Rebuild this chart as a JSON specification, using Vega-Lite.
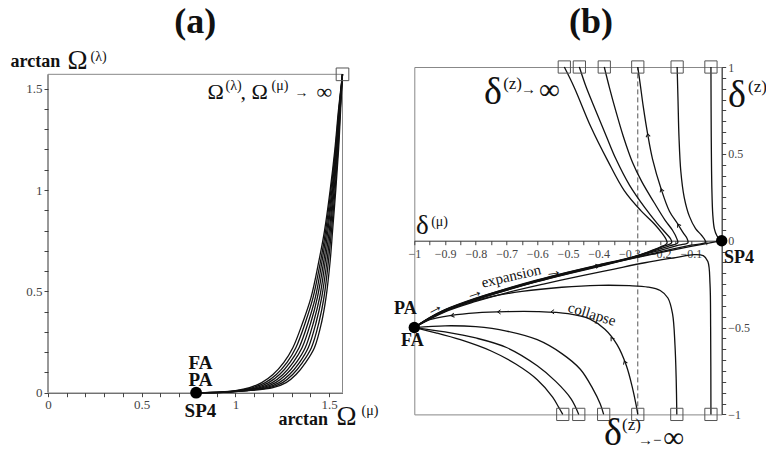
{
"$schema": "https://vega.github.io/schema/vega-lite/v6.json",
"background": "white",
"padding": {"left": 10, "top": 3, "right": 0, "bottom": 0},
"bounds": "flush",
"spacing": 71.3,
"config": {
  "view": {"stroke": null},
  "font": "Liberation Serif",
  "axis": {"labelFont": "Liberation Serif", "labelColor": "#444", "tickColor": "#444", "domainColor": "#333", "grid": false, "tickSize": 4, "labelPadding": 2, "labelFlush": false, "labelOverlap": false, "labelBound": false}
},
"hconcat": [
{
  "width": 294.5, "height": 325.7,
  "view": {"stroke": null},
  "encoding": {
    "x": {"field": "x", "type": "quantitative", "scale": {"domain": [0, 1.5708], "nice": false, "zero": false},
      "axis": {"title": null, "orient": "bottom", "values": [0,0.1,0.2,0.3,0.4,0.5,0.6,0.7,0.8,0.9,1,1.1,1.2,1.3,1.4,1.5], "labelExpr": "abs(datum.value*2 - round(datum.value*2)) < 0.001 ? format(datum.value, '~g') : ''", "labelFontSize": 13}},
    "y": {"field": "y", "type": "quantitative", "scale": {"domain": [0, 1.6069], "nice": false, "zero": false},
      "axis": {"title": null, "orient": "left", "domain": false, "values": [0,0.1,0.2,0.3,0.4,0.5,0.6,0.7,0.8,0.9,1,1.1,1.2,1.3,1.4,1.5], "labelExpr": "abs(datum.value*2 - round(datum.value*2)) < 0.001 ? format(datum.value, '~g') : ''", "labelFontSize": 13}}
  },
  "layer": [
    {"data": {"values": [{"x":0,"y":0,"x2":0,"y2":1.5708}]},
     "mark": {"type": "rule", "color": "#333", "strokeWidth": 1},
     "encoding": {"x2": {"field": "x2"}, "y2": {"field": "y2"}}},
    {"data": {"values": [{"x":0,"y":1.5708,"x2":1.5708,"y2":1.5708},{"x":1.5708,"y":0,"x2":1.5708,"y2":1.5708}]},
     "mark": {"type": "rule", "color": "#888", "strokeWidth": 1},
     "encoding": {"x2": {"field": "x2"}, "y2": {"field": "y2"}}},
    {"data": {"values": [
{"c":0,"o":0,"x":0.79,"y":0},{"c":0,"o":1,"x":0.92,"y":0.003},{"c":0,"o":2,"x":1.0,"y":0.01},{"c":0,"o":3,"x":1.075,"y":0.025},{"c":0,"o":4,"x":1.14,"y":0.05},{"c":0,"o":5,"x":1.2,"y":0.09},{"c":0,"o":6,"x":1.258,"y":0.15},{"c":0,"o":7,"x":1.306,"y":0.222},{"c":0,"o":8,"x":1.36,"y":0.35},{"c":0,"o":9,"x":1.403,"y":0.47},{"c":0,"o":10,"x":1.445,"y":0.65},{"c":0,"o":11,"x":1.475,"y":0.8},{"c":0,"o":12,"x":1.505,"y":1.0},{"c":0,"o":13,"x":1.53,"y":1.2},{"c":0,"o":14,"x":1.55,"y":1.4},{"c":0,"o":15,"x":1.5708,"y":1.5708},
{"c":1,"o":0,"x":0.79,"y":0},{"c":1,"o":1,"x":0.927,"y":0.003},{"c":1,"o":2,"x":1.01,"y":0.01},{"c":1,"o":3,"x":1.093,"y":0.025},{"c":1,"o":4,"x":1.159,"y":0.05},{"c":1,"o":5,"x":1.218,"y":0.09},{"c":1,"o":6,"x":1.275,"y":0.15},{"c":1,"o":7,"x":1.322,"y":0.222},{"c":1,"o":8,"x":1.374,"y":0.35},{"c":1,"o":9,"x":1.414,"y":0.47},{"c":1,"o":10,"x":1.454,"y":0.65},{"c":1,"o":11,"x":1.481,"y":0.8},{"c":1,"o":12,"x":1.509,"y":1.0},{"c":1,"o":13,"x":1.533,"y":1.2},{"c":1,"o":14,"x":1.552,"y":1.4},{"c":1,"o":15,"x":1.5708,"y":1.5708},
{"c":2,"o":0,"x":0.79,"y":0},{"c":2,"o":1,"x":0.934,"y":0.003},{"c":2,"o":2,"x":1.02,"y":0.01},{"c":2,"o":3,"x":1.111,"y":0.025},{"c":2,"o":4,"x":1.177,"y":0.05},{"c":2,"o":5,"x":1.235,"y":0.09},{"c":2,"o":6,"x":1.291,"y":0.15},{"c":2,"o":7,"x":1.339,"y":0.222},{"c":2,"o":8,"x":1.389,"y":0.35},{"c":2,"o":9,"x":1.426,"y":0.47},{"c":2,"o":10,"x":1.462,"y":0.65},{"c":2,"o":11,"x":1.487,"y":0.8},{"c":2,"o":12,"x":1.514,"y":1.0},{"c":2,"o":13,"x":1.536,"y":1.2},{"c":2,"o":14,"x":1.553,"y":1.4},{"c":2,"o":15,"x":1.5708,"y":1.5708},
{"c":3,"o":0,"x":0.79,"y":0},{"c":3,"o":1,"x":0.941,"y":0.003},{"c":3,"o":2,"x":1.03,"y":0.01},{"c":3,"o":3,"x":1.129,"y":0.025},{"c":3,"o":4,"x":1.196,"y":0.05},{"c":3,"o":5,"x":1.253,"y":0.09},{"c":3,"o":6,"x":1.308,"y":0.15},{"c":3,"o":7,"x":1.355,"y":0.222},{"c":3,"o":8,"x":1.403,"y":0.35},{"c":3,"o":9,"x":1.437,"y":0.47},{"c":3,"o":10,"x":1.471,"y":0.65},{"c":3,"o":11,"x":1.493,"y":0.8},{"c":3,"o":12,"x":1.518,"y":1.0},{"c":3,"o":13,"x":1.539,"y":1.2},{"c":3,"o":14,"x":1.555,"y":1.4},{"c":3,"o":15,"x":1.5708,"y":1.5708},
{"c":4,"o":0,"x":0.79,"y":0},{"c":4,"o":1,"x":0.949,"y":0.003},{"c":4,"o":2,"x":1.04,"y":0.01},{"c":4,"o":3,"x":1.146,"y":0.025},{"c":4,"o":4,"x":1.214,"y":0.05},{"c":4,"o":5,"x":1.27,"y":0.09},{"c":4,"o":6,"x":1.325,"y":0.15},{"c":4,"o":7,"x":1.372,"y":0.222},{"c":4,"o":8,"x":1.417,"y":0.35},{"c":4,"o":9,"x":1.449,"y":0.47},{"c":4,"o":10,"x":1.479,"y":0.65},{"c":4,"o":11,"x":1.5,"y":0.8},{"c":4,"o":12,"x":1.522,"y":1.0},{"c":4,"o":13,"x":1.541,"y":1.2},{"c":4,"o":14,"x":1.556,"y":1.4},{"c":4,"o":15,"x":1.5708,"y":1.5708},
{"c":5,"o":0,"x":0.79,"y":0},{"c":5,"o":1,"x":0.956,"y":0.003},{"c":5,"o":2,"x":1.05,"y":0.01},{"c":5,"o":3,"x":1.164,"y":0.025},{"c":5,"o":4,"x":1.233,"y":0.05},{"c":5,"o":5,"x":1.288,"y":0.09},{"c":5,"o":6,"x":1.342,"y":0.15},{"c":5,"o":7,"x":1.388,"y":0.222},{"c":5,"o":8,"x":1.431,"y":0.35},{"c":5,"o":9,"x":1.46,"y":0.47},{"c":5,"o":10,"x":1.488,"y":0.65},{"c":5,"o":11,"x":1.506,"y":0.8},{"c":5,"o":12,"x":1.526,"y":1.0},{"c":5,"o":13,"x":1.544,"y":1.2},{"c":5,"o":14,"x":1.558,"y":1.4},{"c":5,"o":15,"x":1.5708,"y":1.5708},
{"c":6,"o":0,"x":0.79,"y":0},{"c":6,"o":1,"x":0.963,"y":0.003},{"c":6,"o":2,"x":1.06,"y":0.01},{"c":6,"o":3,"x":1.182,"y":0.025},{"c":6,"o":4,"x":1.251,"y":0.05},{"c":6,"o":5,"x":1.305,"y":0.09},{"c":6,"o":6,"x":1.358,"y":0.15},{"c":6,"o":7,"x":1.405,"y":0.222},{"c":6,"o":8,"x":1.446,"y":0.35},{"c":6,"o":9,"x":1.472,"y":0.47},{"c":6,"o":10,"x":1.496,"y":0.65},{"c":6,"o":11,"x":1.512,"y":0.8},{"c":6,"o":12,"x":1.531,"y":1.0},{"c":6,"o":13,"x":1.547,"y":1.2},{"c":6,"o":14,"x":1.559,"y":1.4},{"c":6,"o":15,"x":1.5708,"y":1.5708},
{"c":7,"o":0,"x":0.79,"y":0},{"c":7,"o":1,"x":0.97,"y":0.003},{"c":7,"o":2,"x":1.07,"y":0.01},{"c":7,"o":3,"x":1.2,"y":0.025},{"c":7,"o":4,"x":1.27,"y":0.05},{"c":7,"o":5,"x":1.323,"y":0.09},{"c":7,"o":6,"x":1.375,"y":0.15},{"c":7,"o":7,"x":1.421,"y":0.222},{"c":7,"o":8,"x":1.46,"y":0.35},{"c":7,"o":9,"x":1.483,"y":0.47},{"c":7,"o":10,"x":1.505,"y":0.65},{"c":7,"o":11,"x":1.518,"y":0.8},{"c":7,"o":12,"x":1.535,"y":1.0},{"c":7,"o":13,"x":1.55,"y":1.2},{"c":7,"o":14,"x":1.561,"y":1.4},{"c":7,"o":15,"x":1.5708,"y":1.5708}
    ]},
     "mark": {"type": "line", "interpolate": "catmull-rom", "color": "#111", "strokeWidth": 1.3},
     "encoding": {"detail": {"field": "c"}, "order": {"field": "o", "type": "quantitative"}}},
    {"data": {"values": [{"x":1.5708,"y":1.5708}]},
     "mark": {"type": "point", "shape": "square", "filled": false, "color": "#555", "size": 160, "strokeWidth": 1, "opacity": 1}},
    {"data": {"values": [{"x":0.79,"y":0}]},
     "mark": {"type": "point", "shape": "circle", "filled": true, "color": "#000", "size": 140, "opacity": 1}},
    {"data": {"values": [{"x":0.813,"y":0.117,"t":"FA"},{"x":0.813,"y":0.033,"t":"PA"},{"x":0.813,"y":-0.12,"t":"SP4"}]},
     "mark": {"type": "text", "align": "center", "baseline": "alphabetic", "font": "Liberation Serif", "fontWeight": "bold", "fontSize": 19, "color": "#111"},
     "encoding": {"text": {"field": "t"}}},
    {"data": {"values": [{"x":-0.2,"y":1.607,"t":"arctan"},{"x":1.229,"y":-0.159,"t":"arctan"}]},
     "mark": {"type": "text", "align": "left", "baseline": "alphabetic", "font": "Liberation Serif", "fontWeight": "bold", "fontSize": 18, "color": "#111"},
     "encoding": {"text": {"field": "t"}}},
    {"data": {"values": [{"x":0.104,"y":1.597,"t":"Ω"},{"x":1.539,"y":-0.159,"t":"Ω"}]},
     "mark": {"type": "text", "align": "left", "baseline": "alphabetic", "font": "Liberation Serif", "fontSize": 27, "color": "#111"},
     "encoding": {"text": {"field": "t"}}},
    {"data": {"values": [{"x":0.851,"y":1.449,"t":"Ω"},{"x":1.027,"y":1.449,"t":", Ω"}]},
     "mark": {"type": "text", "align": "left", "baseline": "alphabetic", "font": "Liberation Serif", "fontSize": 22, "color": "#111"},
     "encoding": {"text": {"field": "t"}}},
    {"data": {"values": [{"x":0.227,"y":1.636,"t":"(λ)"},{"x":0.947,"y":1.493,"t":"(λ)"},{"x":1.192,"y":1.493,"t":"(μ)"},{"x":1.672,"y":-0.11,"t":"(μ)"}]},
     "mark": {"type": "text", "align": "left", "baseline": "alphabetic", "font": "Liberation Serif", "fontSize": 14, "color": "#111"},
     "encoding": {"text": {"field": "t"}}},
    {"data": {"values": [{"x":1.315,"y":1.459,"t":"→"}]},
     "mark": {"type": "text", "align": "left", "baseline": "alphabetic", "font": "Liberation Serif", "fontSize": 14, "color": "#111"},
     "encoding": {"text": {"field": "t"}}},
    {"data": {"values": [{"x":1.432,"y":1.449,"t":"∞"}]},
     "mark": {"type": "text", "align": "left", "baseline": "alphabetic", "font": "Liberation Serif", "fontSize": 22, "color": "#111"},
     "encoding": {"text": {"field": "t"}}},
    {"data": {"values": [{"x":0.785,"y":1.775,"t":"(a)"}]},
     "mark": {"type": "text", "align": "center", "baseline": "alphabetic", "font": "Liberation Serif", "fontWeight": "bold", "fontSize": 36, "color": "#111"},
     "encoding": {"text": {"field": "t"}}}
  ]
},
{
  "width": 307.4, "height": 347.4,
  "view": {"stroke": "#888", "strokeWidth": 1},
  "encoding": {
    "x": {"field": "x", "type": "quantitative", "scale": {"domain": [-1, 0], "nice": false, "zero": false},
      "axis": {"title": null, "orient": "bottom", "offset": -173.7, "values": [-1,-0.95,-0.9,-0.85,-0.8,-0.75,-0.7,-0.65,-0.6,-0.55,-0.5,-0.45,-0.4,-0.35,-0.3,-0.25,-0.2,-0.15,-0.1,-0.05], "labelExpr": "abs(datum.value*10 - round(datum.value*10)) < 0.001 ? format(datum.value, '.1~f') : ''", "labelFontSize": 12, "labelPadding": 4}},
    "y": {"field": "y", "type": "quantitative", "scale": {"domain": [-1, 1], "nice": false, "zero": false},
      "axis": {"title": null, "orient": "right", "values": [-1,-0.9375,-0.875,-0.8125,-0.75,-0.6875,-0.625,-0.5625,-0.5,-0.4375,-0.375,-0.3125,-0.25,-0.1875,-0.125,-0.0625,0,0.0625,0.125,0.1875,0.25,0.3125,0.375,0.4375,0.5,0.5625,0.625,0.6875,0.75,0.8125,0.875,0.9375,1], "labelExpr": "abs(datum.value*2 - round(datum.value*2)) < 0.001 ? format(datum.value, '~g') : ''", "labelFontSize": 12}}
  },
  "layer": [
    {"data": {"values": [{"x":-0.273,"y":-1,"y2":1}]},
     "mark": {"type": "rule", "color": "#555", "strokeWidth": 1, "strokeDash": [5, 3]},
     "encoding": {"y2": {"field": "y2"}}},
    {"data": {"values": [
{"c":"U1","o":0,"x":-1,"y":-0.5},{"c":"U1","o":1,"x":-0.95,"y":-0.443},{"c":"U1","o":2,"x":-0.9,"y":-0.397},{"c":"U1","o":3,"x":-0.8,"y":-0.331},{"c":"U1","o":4,"x":-0.7,"y":-0.276},{"c":"U1","o":5,"x":-0.6,"y":-0.226},{"c":"U1","o":6,"x":-0.5,"y":-0.181},{"c":"U1","o":7,"x":-0.4,"y":-0.139},{"c":"U1","o":8,"x":-0.3,"y":-0.099},{"c":"U1","o":9,"x":-0.24,"y":-0.065},{"c":"U1","o":10,"x":-0.2,"y":-0.037},{"c":"U1","o":11,"x":-0.178,"y":-0.014},{"c":"U1","o":12,"x":-0.181,"y":0.008},{"c":"U1","o":13,"x":-0.195,"y":0.045},{"c":"U1","o":14,"x":-0.219,"y":0.096},{"c":"U1","o":15,"x":-0.263,"y":0.173},{"c":"U1","o":16,"x":-0.317,"y":0.288},{"c":"U1","o":17,"x":-0.371,"y":0.461},{"c":"U1","o":18,"x":-0.425,"y":0.653},{"c":"U1","o":19,"x":-0.48,"y":0.884},{"c":"U1","o":20,"x":-0.512,"y":1.0},
{"c":"U2","o":0,"x":-1,"y":-0.5},{"c":"U2","o":1,"x":-0.95,"y":-0.444},{"c":"U2","o":2,"x":-0.9,"y":-0.398},{"c":"U2","o":3,"x":-0.8,"y":-0.333},{"c":"U2","o":4,"x":-0.7,"y":-0.278},{"c":"U2","o":5,"x":-0.6,"y":-0.228},{"c":"U2","o":6,"x":-0.5,"y":-0.183},{"c":"U2","o":7,"x":-0.4,"y":-0.141},{"c":"U2","o":8,"x":-0.3,"y":-0.1},{"c":"U2","o":9,"x":-0.23,"y":-0.06},{"c":"U2","o":10,"x":-0.19,"y":-0.033},{"c":"U2","o":11,"x":-0.163,"y":-0.012},{"c":"U2","o":12,"x":-0.166,"y":0.01},{"c":"U2","o":13,"x":-0.18,"y":0.04},{"c":"U2","o":14,"x":-0.21,"y":0.1},{"c":"U2","o":15,"x":-0.25,"y":0.19},{"c":"U2","o":16,"x":-0.3,"y":0.32},{"c":"U2","o":17,"x":-0.344,"y":0.47},{"c":"U2","o":18,"x":-0.375,"y":0.6},{"c":"U2","o":19,"x":-0.41,"y":0.75},{"c":"U2","o":20,"x":-0.44,"y":0.88},{"c":"U2","o":21,"x":-0.463,"y":1.0},
{"c":"U3","o":0,"x":-1,"y":-0.5},{"c":"U3","o":1,"x":-0.95,"y":-0.445},{"c":"U3","o":2,"x":-0.9,"y":-0.4},{"c":"U3","o":3,"x":-0.8,"y":-0.335},{"c":"U3","o":4,"x":-0.7,"y":-0.28},{"c":"U3","o":5,"x":-0.6,"y":-0.23},{"c":"U3","o":6,"x":-0.5,"y":-0.185},{"c":"U3","o":7,"x":-0.4,"y":-0.143},{"c":"U3","o":8,"x":-0.3,"y":-0.101},{"c":"U3","o":9,"x":-0.22,"y":-0.058},{"c":"U3","o":10,"x":-0.17,"y":-0.03},{"c":"U3","o":11,"x":-0.143,"y":-0.012},{"c":"U3","o":12,"x":-0.146,"y":0.012},{"c":"U3","o":13,"x":-0.16,"y":0.06},{"c":"U3","o":14,"x":-0.185,"y":0.12},{"c":"U3","o":15,"x":-0.22,"y":0.22},{"c":"U3","o":16,"x":-0.26,"y":0.34},{"c":"U3","o":17,"x":-0.29,"y":0.45},{"c":"U3","o":18,"x":-0.32,"y":0.6},{"c":"U3","o":19,"x":-0.345,"y":0.75},{"c":"U3","o":20,"x":-0.365,"y":0.88},{"c":"U3","o":21,"x":-0.382,"y":1.0},
{"c":"U4","o":0,"x":-1,"y":-0.5},{"c":"U4","o":1,"x":-0.95,"y":-0.446},{"c":"U4","o":2,"x":-0.9,"y":-0.402},{"c":"U4","o":3,"x":-0.8,"y":-0.337},{"c":"U4","o":4,"x":-0.7,"y":-0.282},{"c":"U4","o":5,"x":-0.6,"y":-0.232},{"c":"U4","o":6,"x":-0.5,"y":-0.187},{"c":"U4","o":7,"x":-0.4,"y":-0.145},{"c":"U4","o":8,"x":-0.3,"y":-0.102},{"c":"U4","o":9,"x":-0.2,"y":-0.055},{"c":"U4","o":10,"x":-0.14,"y":-0.026},{"c":"U4","o":11,"x":-0.11,"y":-0.012},{"c":"U4","o":12,"x":-0.112,"y":0.01},{"c":"U4","o":13,"x":-0.125,"y":0.045},{"c":"U4","o":14,"x":-0.143,"y":0.096},{"c":"U4","o":15,"x":-0.17,"y":0.17},{"c":"U4","o":16,"x":-0.197,"y":0.298},{"c":"U4","o":17,"x":-0.225,"y":0.47},{"c":"U4","o":18,"x":-0.241,"y":0.615},{"c":"U4","o":19,"x":-0.255,"y":0.77},{"c":"U4","o":20,"x":-0.265,"y":0.9},{"c":"U4","o":21,"x":-0.273,"y":1.0},
{"c":"U5","o":0,"x":-1,"y":-0.5},{"c":"U5","o":1,"x":-0.95,"y":-0.447},{"c":"U5","o":2,"x":-0.9,"y":-0.404},{"c":"U5","o":3,"x":-0.8,"y":-0.339},{"c":"U5","o":4,"x":-0.7,"y":-0.284},{"c":"U5","o":5,"x":-0.6,"y":-0.234},{"c":"U5","o":6,"x":-0.5,"y":-0.189},{"c":"U5","o":7,"x":-0.4,"y":-0.147},{"c":"U5","o":8,"x":-0.3,"y":-0.104},{"c":"U5","o":9,"x":-0.2,"y":-0.064},{"c":"U5","o":10,"x":-0.1,"y":-0.026},{"c":"U5","o":11,"x":-0.053,"y":-0.01},{"c":"U5","o":12,"x":-0.055,"y":0.005},{"c":"U5","o":13,"x":-0.065,"y":0.03},{"c":"U5","o":14,"x":-0.085,"y":0.07},{"c":"U5","o":15,"x":-0.105,"y":0.14},{"c":"U5","o":16,"x":-0.122,"y":0.25},{"c":"U5","o":17,"x":-0.133,"y":0.4},{"c":"U5","o":18,"x":-0.139,"y":0.6},{"c":"U5","o":19,"x":-0.142,"y":0.8},{"c":"U5","o":20,"x":-0.145,"y":1.0},
{"c":"S","o":0,"x":-1,"y":-0.5},{"c":"S","o":1,"x":-0.95,"y":-0.448},{"c":"S","o":2,"x":-0.9,"y":-0.405},{"c":"S","o":3,"x":-0.8,"y":-0.34},{"c":"S","o":4,"x":-0.7,"y":-0.286},{"c":"S","o":5,"x":-0.6,"y":-0.236},{"c":"S","o":6,"x":-0.5,"y":-0.191},{"c":"S","o":7,"x":-0.4,"y":-0.149},{"c":"S","o":8,"x":-0.3,"y":-0.106},{"c":"S","o":9,"x":-0.2,"y":-0.068},{"c":"S","o":10,"x":-0.1,"y":-0.033},{"c":"S","o":11,"x":0,"y":0},
{"c":"U6","o":0,"x":-0.035,"y":1.0},{"c":"U6","o":1,"x":-0.034,"y":0.6},{"c":"U6","o":2,"x":-0.032,"y":0.3},{"c":"U6","o":3,"x":-0.029,"y":0.15},{"c":"U6","o":4,"x":-0.024,"y":0.07},{"c":"U6","o":5,"x":-0.016,"y":0.03},{"c":"U6","o":6,"x":-0.007,"y":0.008},{"c":"U6","o":7,"x":0,"y":0},
{"c":"L6","o":0,"x":-1,"y":-0.5},{"c":"L6","o":1,"x":-0.9,"y":-0.41},{"c":"L6","o":2,"x":-0.8,"y":-0.35},{"c":"L6","o":3,"x":-0.7,"y":-0.3},{"c":"L6","o":4,"x":-0.58,"y":-0.25},{"c":"L6","o":5,"x":-0.45,"y":-0.2},{"c":"L6","o":6,"x":-0.35,"y":-0.163},{"c":"L6","o":7,"x":-0.25,"y":-0.127},{"c":"L6","o":8,"x":-0.15,"y":-0.097},{"c":"L6","o":9,"x":-0.09,"y":-0.08},{"c":"L6","o":10,"x":-0.06,"y":-0.086},{"c":"L6","o":11,"x":-0.045,"y":-0.12},{"c":"L6","o":12,"x":-0.038,"y":-0.25},{"c":"L6","o":13,"x":-0.036,"y":-0.5},{"c":"L6","o":14,"x":-0.035,"y":-1},
{"c":"L5","o":0,"x":-1,"y":-0.5},{"c":"L5","o":1,"x":-0.93,"y":-0.43},{"c":"L5","o":2,"x":-0.85,"y":-0.372},{"c":"L5","o":3,"x":-0.75,"y":-0.322},{"c":"L5","o":4,"x":-0.65,"y":-0.292},{"c":"L5","o":5,"x":-0.52,"y":-0.268},{"c":"L5","o":6,"x":-0.4,"y":-0.257},{"c":"L5","o":7,"x":-0.3,"y":-0.259},{"c":"L5","o":8,"x":-0.24,"y":-0.267},{"c":"L5","o":9,"x":-0.2,"y":-0.287},{"c":"L5","o":10,"x":-0.175,"y":-0.33},{"c":"L5","o":11,"x":-0.16,"y":-0.42},{"c":"L5","o":12,"x":-0.152,"y":-0.6},{"c":"L5","o":13,"x":-0.148,"y":-0.8},{"c":"L5","o":14,"x":-0.146,"y":-1},
{"c":"L4","o":0,"x":-1,"y":-0.5},{"c":"L4","o":1,"x":-0.95,"y":-0.455},{"c":"L4","o":2,"x":-0.88,"y":-0.43},{"c":"L4","o":3,"x":-0.8,"y":-0.415},{"c":"L4","o":4,"x":-0.7,"y":-0.408},{"c":"L4","o":5,"x":-0.6,"y":-0.408},{"c":"L4","o":6,"x":-0.5,"y":-0.42},{"c":"L4","o":7,"x":-0.43,"y":-0.45},{"c":"L4","o":8,"x":-0.38,"y":-0.51},{"c":"L4","o":9,"x":-0.34,"y":-0.6},{"c":"L4","o":10,"x":-0.31,"y":-0.72},{"c":"L4","o":11,"x":-0.29,"y":-0.85},{"c":"L4","o":12,"x":-0.278,"y":-0.95},{"c":"L4","o":13,"x":-0.273,"y":-1},
{"c":"L3","o":0,"x":-1,"y":-0.5},{"c":"L3","o":1,"x":-0.9,"y":-0.49},{"c":"L3","o":2,"x":-0.8,"y":-0.495},{"c":"L3","o":3,"x":-0.7,"y":-0.52},{"c":"L3","o":4,"x":-0.6,"y":-0.57},{"c":"L3","o":5,"x":-0.52,"y":-0.65},{"c":"L3","o":6,"x":-0.46,"y":-0.74},{"c":"L3","o":7,"x":-0.42,"y":-0.85},{"c":"L3","o":8,"x":-0.395,"y":-0.94},{"c":"L3","o":9,"x":-0.384,"y":-1},
{"c":"L2","o":0,"x":-1,"y":-0.5},{"c":"L2","o":1,"x":-0.9,"y":-0.525},{"c":"L2","o":2,"x":-0.8,"y":-0.56},{"c":"L2","o":3,"x":-0.7,"y":-0.615},{"c":"L2","o":4,"x":-0.6,"y":-0.72},{"c":"L2","o":5,"x":-0.54,"y":-0.81},{"c":"L2","o":6,"x":-0.49,"y":-0.91},{"c":"L2","o":7,"x":-0.465,"y":-1},
{"c":"L1","o":0,"x":-1,"y":-0.5},{"c":"L1","o":1,"x":-0.93,"y":-0.53},{"c":"L1","o":2,"x":-0.85,"y":-0.57},{"c":"L1","o":3,"x":-0.75,"y":-0.635},{"c":"L1","o":4,"x":-0.67,"y":-0.71},{"c":"L1","o":5,"x":-0.6,"y":-0.8},{"c":"L1","o":6,"x":-0.55,"y":-0.9},{"c":"L1","o":7,"x":-0.53,"y":-0.96},{"c":"L1","o":8,"x":-0.517,"y":-1}
    ]},
     "mark": {"type": "line", "interpolate": "catmull-rom", "color": "#111", "strokeWidth": 1.3},
     "encoding": {"detail": {"field": "c"}, "order": {"field": "o", "type": "quantitative"}}},
    {"data": {"values": [{"x":-0.241,"y":0.615,"a":-100},{"x":-0.197,"y":0.298,"a":-108},{"x":-0.143,"y":0.096,"a":-122},{"x":-0.88,"y":-0.432,"a":168},{"x":-0.729,"y":-0.41,"a":180},{"x":-0.555,"y":-0.409,"a":180},{"x":-0.36,"y":-0.558,"a":-127},{"x":-0.317,"y":-0.693,"a":-113},{"x":-0.4,"y":-0.143,"a":-14}]},
     "mark": {"type": "point", "shape": "M-1,-0.7L0,0L-1,0.7", "filled": false, "color": "#111", "size": 36, "strokeWidth": 1, "opacity": 1},
     "encoding": {"angle": {"field": "a", "type": "quantitative", "scale": null}}},
    {"data": {"values": [{"x":-0.935,"y":-0.388,"a":-28,"t":"→"},{"x":-0.805,"y":-0.3,"a":-18,"t":"→"},{"x":-0.547,"y":-0.178,"a":-8,"t":"→"}]},
     "mark": {"type": "text", "align": "center", "baseline": "middle", "font": "Liberation Serif", "fontSize": 18, "color": "#111"},
     "encoding": {"text": {"field": "t"}, "angle": {"field": "a", "type": "quantitative", "scale": null}}},
    {"data": {"values": [{"x":-0.512,"y":1},{"x":-0.463,"y":1},{"x":-0.382,"y":1},{"x":-0.273,"y":1},{"x":-0.145,"y":1},{"x":-0.035,"y":1},{"x":-0.517,"y":-1},{"x":-0.465,"y":-1},{"x":-0.384,"y":-1},{"x":-0.273,"y":-1},{"x":-0.146,"y":-1},{"x":-0.035,"y":-1}]},
     "mark": {"type": "point", "shape": "square", "filled": false, "color": "#555", "size": 150, "strokeWidth": 1, "opacity": 1}},
    {"data": {"values": [{"x":-1,"y":-0.5},{"x":0,"y":0}]},
     "mark": {"type": "point", "shape": "circle", "filled": true, "color": "#000", "size": 130, "opacity": 1}},
    {"data": {"values": [{"x":-0.773,"y":0.787,"t":"δ"},{"x":0.0205,"y":0.77,"t":"δ"},{"x":-0.383,"y":-1.178,"t":"δ"}]},
     "mark": {"type": "text", "align": "left", "baseline": "alphabetic", "font": "Liberation Serif", "fontSize": 38, "color": "#111"},
     "encoding": {"text": {"field": "t"}}},
    {"data": {"values": [{"x":-0.9945,"y":0.0386,"t":"δ"}]},
     "mark": {"type": "text", "align": "left", "baseline": "alphabetic", "font": "Liberation Serif", "fontSize": 27, "color": "#111"},
     "encoding": {"text": {"field": "t"}}},
    {"data": {"values": [{"x":-0.711,"y":0.873,"t":"(z)"},{"x":0.0856,"y":0.856,"t":"(z)"},{"x":-0.324,"y":-1.092,"t":"(z)"}]},
     "mark": {"type": "text", "align": "left", "baseline": "alphabetic", "font": "Liberation Serif", "fontSize": 17, "color": "#111"},
     "encoding": {"text": {"field": "t"}}},
    {"data": {"values": [{"x":-0.945,"y":0.085,"t":"(μ)"}]},
     "mark": {"type": "text", "align": "left", "baseline": "alphabetic", "font": "Liberation Serif", "fontSize": 14, "color": "#111"},
     "encoding": {"text": {"field": "t"}}},
    {"data": {"values": [{"x":-0.653,"y":0.845,"t":"→"},{"x":-0.272,"y":-1.175,"t":"→−"}]},
     "mark": {"type": "text", "align": "left", "baseline": "alphabetic", "font": "Liberation Serif", "fontSize": 15, "color": "#111"},
     "encoding": {"text": {"field": "t"}}},
    {"data": {"values": [{"x":-0.594,"y":0.816,"t":"∞"},{"x":-0.19,"y":-1.185,"t":"∞"}]},
     "mark": {"type": "text", "align": "left", "baseline": "alphabetic", "font": "Liberation Serif", "fontSize": 29, "color": "#111"},
     "encoding": {"text": {"field": "t"}}},
    {"data": {"values": [{"x":0.0075,"y":-0.128,"t":"SP4"},{"x":-1.066,"y":-0.422,"t":"PA"},{"x":-1.043,"y":-0.606,"t":"FA"}]},
     "mark": {"type": "text", "align": "left", "baseline": "alphabetic", "font": "Liberation Serif", "fontWeight": "bold", "fontSize": 18, "color": "#111"},
     "encoding": {"text": {"field": "t"}}},
    {"data": {"values": [{"x":-0.685,"y":-0.203,"t":"expansion"}]},
     "mark": {"type": "text", "align": "center", "baseline": "middle", "font": "Liberation Serif", "fontSize": 15, "angle": -13, "color": "#111"},
     "encoding": {"text": {"field": "t"}}},
    {"data": {"values": [{"x":-0.422,"y":-0.422,"t":"collapse"}]},
     "mark": {"type": "text", "align": "center", "baseline": "middle", "font": "Liberation Serif", "fontSize": 15, "angle": 17, "color": "#111"},
     "encoding": {"text": {"field": "t"}}},
    {"data": {"values": [{"x":-0.425,"y":1.196,"t":"(b)"}]},
     "mark": {"type": "text", "align": "center", "baseline": "alphabetic", "font": "Liberation Serif", "fontWeight": "bold", "fontSize": 36, "color": "#111"},
     "encoding": {"text": {"field": "t"}}}
  ]
}
]
}
